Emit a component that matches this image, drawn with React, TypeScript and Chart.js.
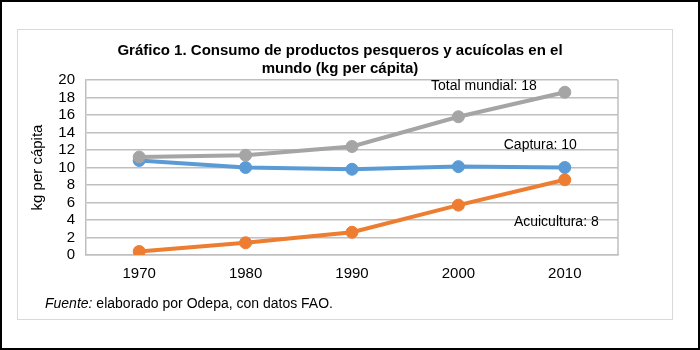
import React, { useEffect, useRef } from "react";
import { Chart, registerables } from "chart.js";

Chart.register(...registerables);

const years = ["1970", "1980", "1990", "2000", "2010"];
const totalMundial = [11.2, 11.4, 12.4, 15.8, 18.6];
const captura = [10.8, 10.0, 9.8, 10.1, 10.0];
const acuicultura = [0.4, 1.4, 2.6, 5.7, 8.6];
const yTicks = [0, 2, 4, 6, 8, 10, 12, 14, 16, 18, 20];

const seriesLabels = [
  { text: "Total mundial: 18", x: 3.24, y: 19.3 },
  { text: "Captura: 10", x: 3.77, y: 12.6 },
  { text: "Acuicultura: 8", x: 3.92, y: 3.7 },
];

const FONT = "'Liberation Sans', Arial, sans-serif";

const labelPlugin = {
  id: "seriesLabels",
  afterDatasetsDraw(chart: any) {
    const { ctx, scales, chartArea } = chart;
    ctx.save();
    ctx.strokeStyle = "#BFBFBF";
    ctx.lineWidth = 1.5;
    ctx.beginPath();
    ctx.moveTo(chartArea.right, chartArea.top);
    ctx.lineTo(chartArea.right, chartArea.bottom);
    ctx.stroke();
    ctx.font = `14px ${FONT}`;
    ctx.fillStyle = "#000";
    ctx.textAlign = "center";
    ctx.textBaseline = "middle";
    seriesLabels.forEach((l) => {
      ctx.fillText(l.text, scales.x.getPixelForValue(l.x), scales.y.getPixelForValue(l.y));
    });
    ctx.restore();
  },
};

function ds(label: string, data: number[], color: string) {
  return {
    label,
    data,
    borderColor: color,
    backgroundColor: color,
    pointBackgroundColor: color,
    pointBorderColor: color,
    borderWidth: 4,
    pointRadius: 6,
    pointBorderWidth: 1,
    tension: 0,
  };
}

export default function App() {
  const ref = useRef<HTMLCanvasElement>(null);
  useEffect(() => {
    const chart = new Chart(ref.current!, {
      type: "line",
      data: {
        labels: years,
        datasets: [
          ds("Total mundial", totalMundial, "#A5A5A5"),
          ds("Captura", captura, "#5B9BD5"),
          ds("Acuicultura", acuicultura, "#ED7D31"),
        ],
      },
      options: {
        animation: false,
        responsive: false,
        layout: { padding: { left: 29, right: 82, top: 80, bottom: 65 } },
        plugins: { legend: { display: false }, tooltip: { enabled: false }, title: { display: false } },
        scales: {
          x: {
            offset: true,
            grid: { display: false, drawTicks: false },
            border: { display: true, color: "#BFBFBF", width: 1.5 },
            ticks: { color: "#000", font: { family: FONT, size: 15 }, padding: 10 },
            afterFit: (s: any) => { s.height = 30; },
          },
          y: {
            min: 0,
            max: 20,
            afterBuildTicks: (s: any) => { s.ticks = yTicks.map((v) => ({ value: v })); },
            grid: { color: "#BFBFBF", lineWidth: 1.5, drawTicks: false },
            border: { display: true, color: "#BFBFBF", width: 1.5 },
            ticks: { color: "#000", font: { family: FONT, size: 15 }, padding: 11, autoSkip: false },
            title: { display: true, text: "kg per cápita", color: "#000", font: { family: FONT, size: 15 }, padding: { top: 0, bottom: 0 } },
            afterFit: (s: any) => { s.width = 57; },
          },
        },
      },
      plugins: [labelPlugin],
    });
    return () => chart.destroy();
  }, []);

  return (
    <div style={{ position: "fixed", left: 0, top: 0, width: 700, height: 350, background: "#fff", overflow: "hidden" }}>
      <div style={{ position: "absolute", left: 17, top: 29, width: 656, height: 291, border: "1.5px solid #D9D9D9", boxSizing: "border-box" }} />
      <canvas ref={ref} width={700} height={350} style={{ position: "absolute", left: 0, top: 0, width: 700, height: 350 }} />
      <div style={{ position: "absolute", left: 0, top: 41, width: 680, textAlign: "center", fontFamily: FONT, fontWeight: "bold", fontSize: 15, lineHeight: "18px", color: "#000" }}>
        Gráfico 1. Consumo de productos pesqueros y acuícolas en el<br />mundo (kg per cápita)
      </div>
      <div style={{ position: "absolute", left: 45, top: 295, fontFamily: FONT, fontSize: 14, color: "#000", whiteSpace: "nowrap" }}>
        <i>Fuente:</i> elaborado por Odepa, con datos FAO.
      </div>
      <div style={{ position: "absolute", left: 0, top: 0, width: 700, height: 350, border: "2px solid #000", boxSizing: "border-box" }} />
    </div>
  );
}
